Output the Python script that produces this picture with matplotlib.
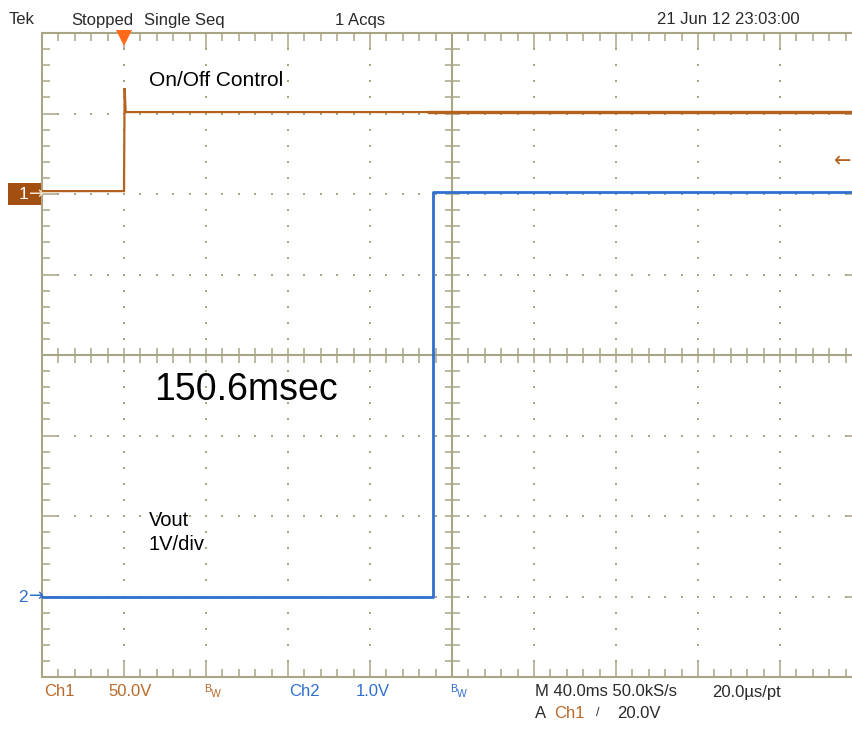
import matplotlib
matplotlib.use('Agg')
import matplotlib.pyplot as plt
import matplotlib.transforms as mtransforms
from matplotlib.patches import Rectangle
from matplotlib.ticker import MultipleLocator
import numpy as np

W, H, DPI = 852, 733, 100

# ---- scope settings ----
time_per_div_ms = 40.0
ch1_volts_per_div = 50.0
ch2_volts_per_div = 1.0
ch1_ground_div = 6.0
ch2_ground_div = 1.0
trigger_time_ms = 0.0
trigger_level_v = 20.0

# ---- Ch1: On/Off control (time ms, volts) ----
ch1_t = [-40.0, 0.0, 0.3, 0.8, 149.0]
ch1_v = [1.8, 1.8, 65.8, 50.9, 50.9]
ch1b_t = [149.0, 360.0]
ch1b_v = [51.1, 51.1]

# ---- Ch2: Vout (time ms, volts) ----
ch2_t = [-40.0, 150.6, 150.6, 360.0]
ch2_v = [0.0, 0.0, 5.03, 5.03]

GRID = '#aaa585'
CH1 = '#b5621f'
CH1_BOX = '#a34f12'
CH1_TXT = '#b8692a'
CH2 = '#2f6fd0'
TXT = '#2a2a2a'
FONT = ['Liberation Sans', 'DejaVu Sans']

plt.rcParams['font.family'] = FONT

fig = plt.figure(figsize=(W / DPI, H / DPI), dpi=DPI)
fig.patch.set_facecolor('white')
ax = fig.add_axes([42 / W, (H - 677) / H, 820 / W, 644 / H])
xmin, xmax = -40.0, 360.0
ax.set_xlim(xmin, xmax)
ax.set_ylim(0, 8)

ax.xaxis.set_major_locator(MultipleLocator(time_per_div_ms))
ax.xaxis.set_minor_locator(MultipleLocator(time_per_div_ms / 5))
ax.yaxis.set_major_locator(MultipleLocator(1))
ax.yaxis.set_minor_locator(MultipleLocator(0.2))
ax.tick_params(which='both', direction='in', top=True, right=True,
               labelbottom=False, labelleft=False, color=GRID)
ax.tick_params(which='major', length=12, width=1.1)
ax.tick_params(which='minor', length=5.8, width=1.1)
for s in ax.spines.values():
    s.set_color(GRID)
    s.set_linewidth(1.5)

major_x = np.arange(xmin, xmax + 0.1, time_per_div_ms)
minor_x = np.arange(xmin, xmax + 0.1, time_per_div_ms / 5)
major_y = np.arange(0, 8.01, 1)
minor_y = np.arange(0, 8.01, 0.2)
cx = xmin + 5 * time_per_div_ms
cy = 4

# dotted graticule
for xv in major_x[1:-1]:
    if abs(xv - cx) < 1e-6:
        continue
    ax.plot([xv] * len(minor_y), minor_y, ls='none', marker='s', ms=1.7,
            mew=0, color=GRID, zorder=1)
for yv in major_y[1:-1]:
    if abs(yv - cy) < 1e-6:
        continue
    ax.plot(minor_x, [yv] * len(minor_x), ls='none', marker='s', ms=1.7,
            mew=0, color=GRID, zorder=1)

# center cross with ticks
ax.axvline(cx, color=GRID, lw=1.5, zorder=1)
ax.axhline(cy, color=GRID, lw=1.5, zorder=1)
ax.plot([cx] * len(minor_y), minor_y, ls='none', marker='_', ms=10.8,
        mew=1.1, color=GRID, zorder=1)
ax.plot(minor_x, [cy] * len(minor_x), ls='none', marker='|', ms=10.8,
        mew=1.1, color=GRID, zorder=1)


def to_div(v, ground, scale):
    return [ground + x / scale for x in v]


# traces
ax.plot(ch1_t, to_div(ch1_v, ch1_ground_div, ch1_volts_per_div),
        color=CH1, lw=1.6, zorder=3, solid_joinstyle='miter')
ax.plot(ch1b_t, to_div(ch1b_v, ch1_ground_div, ch1_volts_per_div),
        color=CH1, lw=2.4, zorder=3)
ax.plot(ch2_t, to_div(ch2_v, ch2_ground_div, ch2_volts_per_div),
        color=CH2, lw=2.0, zorder=3)

# trigger position marker (top)
trans = mtransforms.offset_copy(ax.transData, fig=fig, y=-4.5, units='dots')
ax.plot([trigger_time_ms], [8], marker='v', ms=11, color='#ff6a1a',
        mew=0, clip_on=False, transform=trans, zorder=5)

# trigger level arrow (right)
ax.text(350.5, ch1_ground_div + trigger_level_v / ch1_volts_per_div, '←',
        ha='center', va='center', color=CH1, fontsize=15,
        family=['DejaVu Sans'], zorder=5)


def ftext(x, y, s, **kw):
    fig.text(x / W, 1 - y / H, s, **kw)


# channel ground markers
fig.add_artist(Rectangle((8 / W, 1 - 205 / H), 33 / W, 22 / H,
                         transform=fig.transFigure, color=CH1_BOX, lw=0))
ftext(23, 194.5, '1', color='white', fontsize=12.5, ha='center', va='center')
ftext(36.5, 193.5, '→', color='#f6e4d2', fontsize=13, ha='center', va='center',
      family=['DejaVu Sans'])
ftext(22.5, 598, '2', color=CH2, fontsize=12.5, ha='center', va='center')
ftext(37, 596, '→', color=CH2, fontsize=13, ha='center', va='center',
      family=['DejaVu Sans'])

# header
hy = 20
ftext(9, hy, 'Tek', color=TXT, fontsize=12, va='center')
ftext(71, hy, 'Stopped', color=TXT, fontsize=12, va='center')
ftext(144, hy, 'Single Seq', color=TXT, fontsize=12, va='center')
ftext(335, hy, '1 Acqs', color=TXT, fontsize=12, va='center')
ftext(657, hy, '21 Jun 12 23:03:00', color=TXT, fontsize=12, va='center')

# footer
fy1, fy2 = 692, 713
FS = 12
ftext(44, fy1, 'Ch1', color=CH1_TXT, fontsize=FS, va='center')
ftext(108, fy1, '50.0V', color=CH1_TXT, fontsize=FS, va='center')
ftext(204, fy1 - 3, 'B', color=CH1_TXT, fontsize=7.5, va='center')
ftext(211, fy1 + 2, 'W', color=CH1_TXT, fontsize=7.5, va='center')
ftext(289, fy1, 'Ch2', color=CH2, fontsize=FS, va='center')
ftext(356, fy1, '1.0V', color=CH2, fontsize=FS, va='center')
ftext(450, fy1 - 3, 'B', color=CH2, fontsize=7.5, va='center')
ftext(457, fy1 + 2, 'W', color=CH2, fontsize=7.5, va='center')
ftext(535, fy1, 'M 40.0ms 50.0kS/s', color=TXT, fontsize=FS, va='center')
ftext(712, fy1, '20.0µs/pt', color=TXT, fontsize=FS, va='center')
ftext(535, fy2, 'A', color=TXT, fontsize=FS, va='center')
ftext(554, fy2, 'Ch1', color=CH1_TXT, fontsize=FS, va='center')
ftext(596, fy2, '/', color=TXT, fontsize=9, va='center')
ftext(617, fy2, '20.0V', color=TXT, fontsize=FS, va='center')

# annotations
ftext(149, 80, 'On/Off Control', color='black', fontsize=15, va='center')
ftext(154, 390, '150.6msec', color='black', fontsize=27, va='center')
ftext(149, 521, 'Vout', color='black', fontsize=14.5, va='center')
ftext(149, 545, '1V/div', color='black', fontsize=14.5, va='center')

fig.savefig('out.png', dpi=DPI)
